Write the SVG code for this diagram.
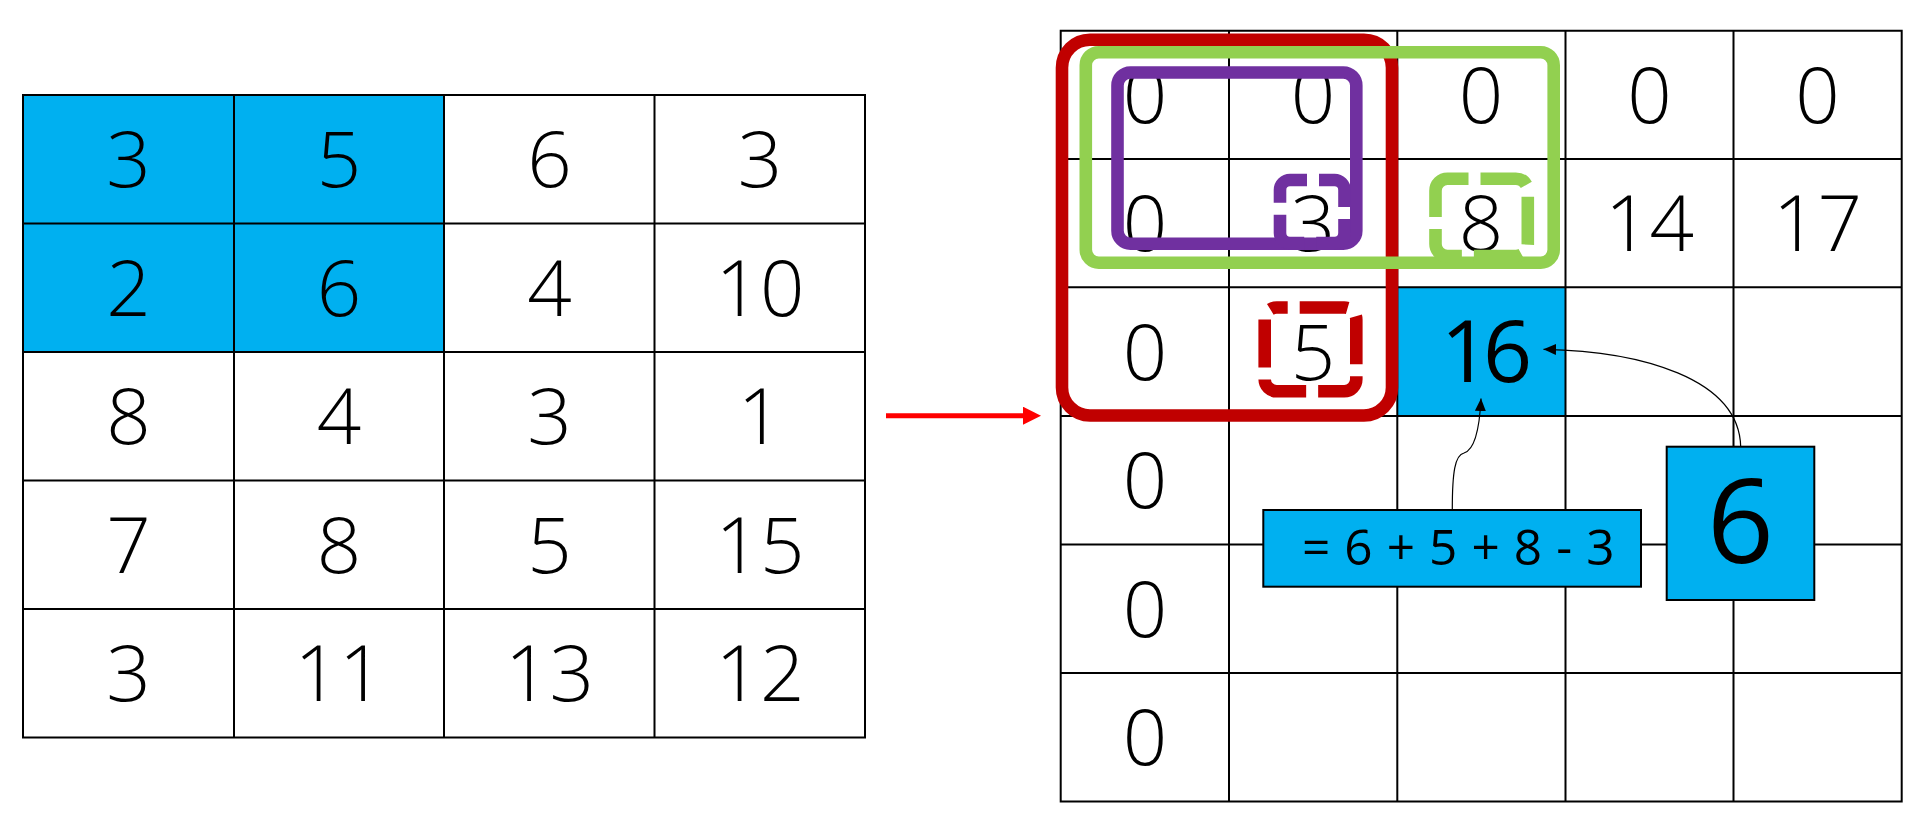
<svg xmlns="http://www.w3.org/2000/svg" width="1912" height="816" viewBox="0 0 1912 816">
<defs>
<style>
.grid{fill:none;stroke:#000;stroke-width:2}
.blue{fill:#00B0F0}
.d{font-family:"Open Sans","Noto Sans","Liberation Sans",sans-serif;font-weight:300;font-size:78px;fill:#000;text-anchor:middle}
.big{font-family:"Open Sans","Noto Sans","Liberation Sans",sans-serif;font-weight:400;fill:#000;text-anchor:middle}
.ov{fill:none;stroke-width:12.6}
.dash{stroke-dasharray:48 12}
.conn{fill:none;stroke:#000;stroke-width:1.2}
</style>
<marker id="ah" markerUnits="userSpaceOnUse" markerWidth="13" markerHeight="12" refX="12.5" refY="5.5" orient="auto"><path d="M0,0 L12.5,5.5 L0,11 z" fill="#000"/></marker>
<marker id="rah" markerUnits="userSpaceOnUse" markerWidth="19" markerHeight="19" refX="7" refY="9" orient="auto"><path d="M0,0 L18,9 L0,18 z" fill="#f00"/></marker>
</defs>
<rect width="1912" height="816" fill="#fff"/>

<g id="input-table">
<rect class="blue" x="23" y="95" width="421" height="257"/>
<path class="grid" d="M23,95H865V737.5H23Z M234,95V737.5 M444,95V737.5 M654.5,95V737.5 M23,223.5H865 M23,352H865 M23,480.5H865 M23,609H865"/>
<g class="d">
<text x="128.5" y="187.1">3</text><text x="339" y="187.1">5</text><text x="549.5" y="187.1">6</text><text x="760" y="187.1">3</text>
<text x="128.5" y="315.6">2</text><text x="339" y="315.6">6</text><text x="549.5" y="315.6">4</text><text x="760" y="315.6">10</text>
<text x="128.5" y="444.1">8</text><text x="339" y="444.1">4</text><text x="549.5" y="444.1">3</text><text x="760" y="444.1">1</text>
<text x="128.5" y="572.6">7</text><text x="339" y="572.6">8</text><text x="549.5" y="572.6">5</text><text x="760" y="572.6">15</text>
<text x="128.5" y="701.1">3</text><text x="339" y="701.1">11</text><text x="549.5" y="701.1">13</text><text x="760" y="701.1">12</text>
</g>
</g>

<g id="sum-table">
<rect class="blue" x="1397.3" y="287.3" width="168.2" height="128.6"/>
<path class="grid" d="M1060.7,30.7H1901.7V801.5H1060.7Z M1229,30.7V801.5 M1397.3,30.7V801.5 M1565.5,30.7V801.5 M1733.5,30.7V801.5 M1060.7,158.9H1901.7 M1060.7,287.3H1901.7 M1060.7,415.9H1901.7 M1060.7,544.4H1901.7 M1060.7,673H1901.7"/>
<g class="d">
<text x="1145" y="122.6">0</text><text x="1313" y="122.6">0</text><text x="1481" y="122.6">0</text><text x="1649.5" y="122.6">0</text><text x="1817.5" y="122.6">0</text>
<text x="1145" y="251.1">0</text><text x="1313" y="251.1">3</text><text x="1481" y="251.1">8</text><text x="1649.5" y="251.1">14</text><text x="1817.5" y="251.1">17</text>
<text x="1145" y="379.6">0</text><text x="1313" y="379.6">5</text>
<text x="1145" y="508">0</text>
<text x="1145" y="636.5">0</text>
<text x="1145" y="765">0</text>
</g>
<text class="big" x="1483" y="381.7" font-size="86" letter-spacing="-7">16</text>
</g>

<g id="region-red">
<rect class="ov" stroke="#C00000" x="1062" y="39.7" width="330" height="375.8" rx="28"/>
</g>
<g id="region-green">
<rect class="ov" stroke="#92D050" x="1085.8" y="52.2" width="467.9" height="210.5" rx="13"/>
</g>
<g id="region-purple">
<rect class="ov" stroke="#7030A0" x="1117.5" y="72.5" width="238.8" height="171.2" rx="13"/>
</g>
<g id="cell-purple-dashed">
<rect class="ov dash" stroke="#7030A0" stroke-dashoffset="31" x="1280" y="180" width="64.5" height="63" rx="10"/>
</g>
<g id="cell-green-dashed">
<rect class="ov dash" stroke="#92D050" stroke-dashoffset="27" x="1435.5" y="178.7" width="92.3" height="77.3" rx="12"/>
</g>
<g id="cell-red-dashed">
<rect class="ov dash" stroke="#C00000" stroke-dashoffset="37" x="1264.7" y="307.5" width="91.6" height="83.8" rx="12"/>
</g>

<g id="formula-box">
<rect class="blue" stroke="#000" stroke-width="2" x="1263.3" y="510" width="377.7" height="76.7"/>
<text class="big" x="1302" y="565" font-size="49.5" letter-spacing="0.6" style="text-anchor:start">= 6 + 5 + 8 - 3</text>
</g>
<g id="value-box">
<rect class="blue" stroke="#000" stroke-width="2" x="1666.7" y="446.7" width="147.6" height="153.3"/>
<text class="big" x="1740.5" y="563.3" font-size="117">6</text>
</g>

<g id="connectors">
<line x1="886" y1="415.7" x2="1030" y2="415.7" stroke="#f00" stroke-width="5" marker-end="url(#rah)"/>
<path class="conn" d="M1452.3,509 C1452.3,472 1455,455 1464,453 C1474,450 1479.5,430 1481,398.5" marker-end="url(#ah)"/>
<path class="conn" d="M1740.7,446.7 C1739,378 1640,351 1543.5,349.3" marker-end="url(#ah)"/>
</g>
</svg>
